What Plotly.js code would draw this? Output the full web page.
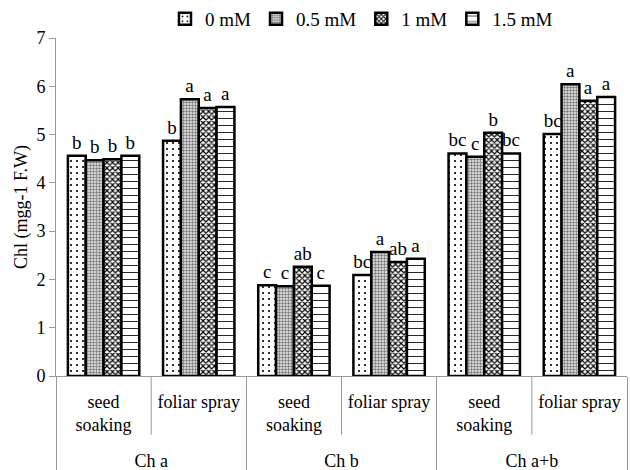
<!DOCTYPE html>
<html>
<head>
<meta charset="utf-8">
<script src="https://cdn.plot.ly/plotly-3.0.1.min.js"></script>
<style>html,body{margin:0;padding:0;background:#fff}#chart{width:630px;height:470px}</style>
</head>
<body>
<div id="chart"></div>
<script>
// Data
var groups = ["Ch a", "Ch a", "Ch b", "Ch b", "Ch a+b", "Ch a+b"];
var methods = ["seed<br>soaking", "foliar spray", "seed<br>soaking", "foliar spray", "seed<br>soaking", "foliar spray"];
var seriesNames = ["0 mM", "0.5 mM", "1 mM", "1.5 mM"];
var v0 = [4.56, 4.87, 1.88, 2.09, 4.61, 5.01];
var v05 = [4.47, 5.73, 1.86, 2.57, 4.54, 6.04];
var v1 = [4.49, 5.55, 2.26, 2.36, 5.04, 5.70];
var v15 = [4.56, 5.57, 1.87, 2.43, 4.61, 5.78];
var l0 = ["b", "b", "c", "bc", "bc", "bc"];
var l05 = ["b", "a", "c", "a", "c", "a"];
var l1 = ["b", "a", "ab", "ab", "b", "a"];
var l15 = ["b", "a", "c", "a", "bc", "a"];

var values = [v0, v05, v1, v15];
var letters = [l0, l05, l1, l15];
var patterns = [
  {shape: ".", size: 6, solidity: 0.1, fgcolor: "#000", bgcolor: "#fff"},
  {shape: ".", size: 3, solidity: 0.5, fgcolor: "#777", bgcolor: "#eee"},
  {shape: "x", size: 4, solidity: 0.5, fgcolor: "#000", bgcolor: "#fff"},
  {shape: "-", size: 7, solidity: 0.12, fgcolor: "#000", bgcolor: "#fff"}
];
var serif = "\"Liberation Serif\", \"Times New Roman\", serif";
// outer-level labels drawn one line lower, as in the reference
var groupLabels = groups.map(function (g) { return "<br>" + g; });

var traces = seriesNames.map(function (name, i) {
  return {
    type: "bar",
    name: name,
    x: [groupLabels, methods],
    y: values[i],
    text: letters[i],
    textposition: "outside",
    constraintext: "none",
    cliponaxis: false,
    textfont: {family: serif, size: 19, color: "#000"},
    marker: {color: "#fff", pattern: patterns[i], line: {color: "#000", width: 2.5}},
    hoverinfo: "y"
  };
});

var layout = {
  width: 630, height: 470,
  margin: {l: 56, r: 3, t: 37, b: 94},
  paper_bgcolor: "#fff", plot_bgcolor: "#fff",
  barmode: "group", bargap: 0.25, bargroupgap: 0,
  font: {family: serif, size: 19, color: "#000"},
  showlegend: true,
  legend: {orientation: "h", x: 0.535, xanchor: "center", yref: "container", y: 1, yanchor: "top",
           font: {family: serif, size: 19, color: "#000"}, itemwidth: 30},
  xaxis: {
    type: "multicategory",
    showline: true, linecolor: "#999", linewidth: 1,
    ticks: "", ticklabelstandoff: 9,
    tickangle: 0,
    showdividers: true, dividercolor: "#999", dividerwidth: 1,
    tickfont: {family: serif, size: 18, color: "#000"},
    showgrid: false, zeroline: false
  },
  yaxis: {
    range: [0, 7], dtick: 1,
    showline: true, linecolor: "#999", linewidth: 1,
    ticks: "outside", ticklen: 6, tickcolor: "#999",
    tickfont: {family: serif, size: 18, color: "#000"},
    showgrid: false, zeroline: false,
    title: {text: "Chl (mgg-1 F.W)", font: {family: serif, size: 18, color: "#000"}, standoff: 4}
  },
  shapes: [1/6, 1/2, 5/6].map(function (p) {
    return {type: "line", xref: "x domain", yref: "y domain", x0: p, x1: p, y0: 0, y1: -0.174,
            line: {color: "#999", width: 1}};
  })
};

Plotly.newPlot("chart", traces, layout, {displayModeBar: false, staticPlot: true});
</script>
</body>
</html>
